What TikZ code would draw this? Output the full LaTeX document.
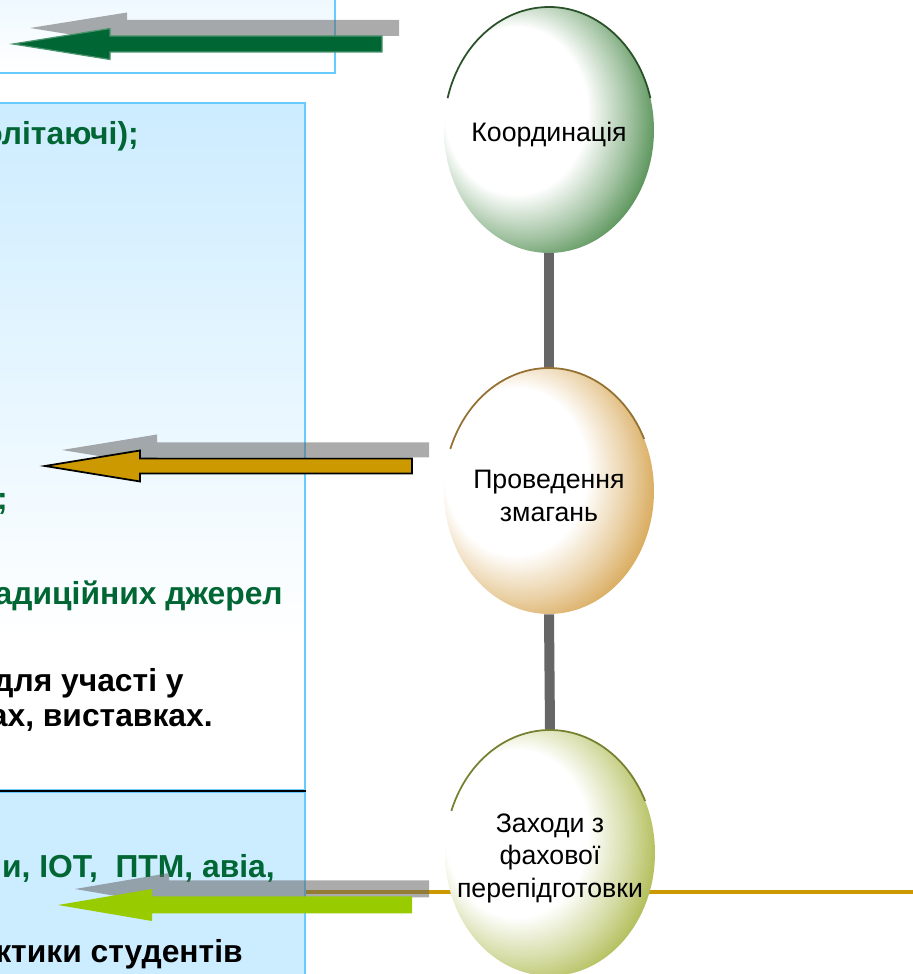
\documentclass[tikz,border=0pt]{standalone}
\usepackage{fontspec}
\setmainfont{Liberation Sans}
\usetikzlibrary{shapes.geometric}

\definecolor{boxblue}{HTML}{CCECFF}
\definecolor{boxline}{HTML}{66CCFF}
\definecolor{textgreen}{HTML}{006633}
\definecolor{arrowgold}{HTML}{CC9900}
\definecolor{arrowlime}{HTML}{99CC00}
\definecolor{coordgreen}{HTML}{468746}
\definecolor{compgold}{HTML}{D4A048}
\definecolor{trainolive}{HTML}{A8B645}

\pgfdeclareverticalshading{panelfade}{100bp}{color(0bp)=(white); color(36bp)=(white); color(75bp)=(boxblue); color(100bp)=(boxblue)}
\pgfdeclareradialshading{coordglow}{\pgfpoint{-12bp}{6bp}}{color(0bp)=(white); color(17bp)=(white); color(25bp)=(coordgreen!50); color(32bp)=(coordgreen); color(50bp)=(coordgreen)}
\pgfdeclareradialshading{compglow}{\pgfpoint{-12bp}{6bp}}{color(0bp)=(white); color(17bp)=(white); color(25bp)=(compgold!50); color(32bp)=(compgold); color(50bp)=(compgold)}
\pgfdeclareradialshading{trainglow}{\pgfpoint{-12bp}{6bp}}{color(0bp)=(white); color(17bp)=(white); color(25bp)=(trainolive!50); color(32bp)=(trainolive); color(50bp)=(trainolive)}

\begin{document}
\begin{tikzpicture}[x=0.02cm,y=0.02cm,
        panel/.style={rectangle,draw=boxline,line width=1pt,inner sep=0pt},
        glossy/.style={ellipse,minimum width=4.2cm,minimum height=4.92cm,inner sep=0pt},
        caption/.style={align=center,font=\fontsize{15.2}{18.5}\selectfont,yshift=-0.1cm},
        item/.style={anchor=base east,inner sep=0pt,font=\bfseries\fontsize{18.1}{21}\selectfont},
        stem/.style={draw=black!60,line width=0.2cm},
        rim/.style={line width=1pt},
        shadow/.style={fill=black!61,fill opacity=0.54},
        pics/leftarrow/.style n args={4}{code={\path[pic actions] (0,#3) -- (-#1+#2,#3) -- (-#1+#2,#4) -- (-#1,0) -- (-#1+#2,-#4) -- (-#1+#2,-#3) -- (0,-#3) -- cycle;}}
      ]
      \useasboundingbox (0,0) rectangle (913,974);
      \clip (0,0) rectangle (913,974);

      \node[panel,shade,top color=boxblue!45,bottom color=white,minimum width=7.12cm,minimum height=2cm,anchor=south east] (topbox) at (336,900) {};
      \node[panel,shade,shading=panelfade,minimum width=6.52cm,minimum height=13.74cm,anchor=south east] (listbox) at (306,183) {};
      \node[panel,fill=boxblue,minimum width=6.52cm,minimum height=4.06cm,anchor=north east] (lowbox) at (306,183) {};
      \draw[line width=1.6pt] (lowbox.north west) -- (lowbox.north east);

      \node[item,text=textgreen] (t1) at (139,829) {олітаючі);};
      \node[item,text=textgreen] (t2) at (8,464) {;};
      \node[item,text=textgreen] (t3) at (283,369) {адиційних джерел};
      \node[item] (t4) at (184,282) {для участі у};
      \node[item] (t5) at (213,247) {ах, виставках.};
      \node[item,text=textgreen] (t6) at (275,96) {и, ІОТ,\ \ ПТМ, авіа,};
      \node[item] (t7) at (243,11) {ктики студентів};

      \coordinate (lineend) at (913,82);
      \draw[arrowgold,line width=2.3pt] (lowbox.east |- lineend) -- (lineend);

      \coordinate (tail1) at (382,930);
      \coordinate (tail2) at (412,508);
      \coordinate (tail3) at (412,69);
      \pic[shadow] at ([shift={(17,16)}]tail1) {leftarrow={369}{97}{8}{15.5}};
      \pic[fill=textgreen,draw=textgreen!70!white,line width=0.7pt] at (tail1) {leftarrow={369}{97}{8}{15.5}};
      \pic[shadow] at ([shift={(17,16)}]tail2) {leftarrow={367}{95}{7.5}{15.5}};
      \pic[fill=arrowgold,draw=black,line width=1pt] at (tail2) {leftarrow={367}{95}{7.5}{15.5}};
      \pic[shadow] at ([shift={(17,16)}]tail3) {leftarrow={354}{94}{8.5}{16}};
      \pic[fill=arrowlime] at (tail3) {leftarrow={354}{94}{8.5}{16}};

      \node[glossy,shade,shading=coordglow,label={[caption]center:Координація}] (coord) at (549,844) {};
      \node[glossy,shade,shading=compglow,label={[caption]center:Проведення\\змагань}] (comp) at (549,483) {};
      \node[glossy,shade,shading=trainglow,label={[caption]center:Заходи з\\фахової\\перепідготовки}] (retrain) at (550,121) {};
      \draw[stem] (coord.south) -- (comp.north);
      \draw[stem] (comp.south) -- (retrain.north);

      \draw[rim,coordgreen!60!black] ([shift={(15:2.1cm and 2.46cm)}]coord.center) arc[start angle=15,end angle=165,x radius=2.1cm,y radius=2.46cm];
      \draw[rim,compgold!70!black] ([shift={(25:2.1cm and 2.46cm)}]comp.center) arc[start angle=25,end angle=160,x radius=2.1cm,y radius=2.46cm];
      \draw[rim,trainolive!70!black] ([shift={(25:2.1cm and 2.46cm)}]retrain.center) arc[start angle=25,end angle=160,x radius=2.1cm,y radius=2.46cm];
    \end{tikzpicture}
\end{document}
